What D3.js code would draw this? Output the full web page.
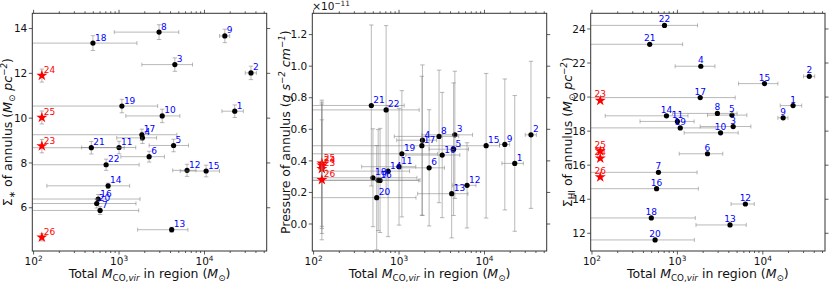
<!DOCTYPE html>
<html><head><meta charset="utf-8">
<script src="https://cdn.jsdelivr.net/npm/d3@7"></script>
<style>
html,body{margin:0;padding:0;background:#fff;}
svg text{font-family:"DejaVu Sans",sans-serif;}
</style></head>
<body><svg id="c" width="830" height="282"></svg>
<script>
// ---------- data ----------
const regionIds = [1,2,3,4,5,6,7,8,9,10,11,12,13,14,15,16,17,18,19,20,21,22,23,24,25,26];
const mcoVir   = [22600,35000,4500,1880,4350,2250,600,2940,17300,3200,1000,6250,4130,745,10450,570,1850,495,1080,548,474,706,125,125,125,125];
const mcoLow   = [16000,30000,1850,940,2250,1050,10,880,15000,1200,365,4250,1650,143,5200,10,10,10,10,10,10,10,null,null,null,null];
const mcoHigh  = [28500,40500,7250,2750,6500,3400,1700,5000,19700,5150,1570,7950,6400,1330,15000,1760,4750,1620,2830,1580,1150,1720,null,null,null,null];
const sigmaStar    = [10.31,12.02,12.39,9.12,8.78,8.28,5.88,13.84,13.67,10.10,8.69,7.67,5.02,6.98,7.64,6.39,9.26,13.35,10.54,6.19,8.68,7.92,8.75,11.9,10.03,4.68];
const sigmaStarErr = [0.28,0.30,0.30,0.25,0.28,0.24,0.18,0.33,0.30,0.30,0.28,0.27,0.11,0.12,0.26,0.20,0.25,0.33,0.30,0.20,0.28,0.25,0.30,0.29,0.29,0.16];
const pressure     = [0.384,0.565,0.565,0.531,0.474,0.356,0.276,0.555,0.504,0.437,0.363,0.245,0.192,0.335,0.496,0.278,0.496,0.293,0.445,0.167,0.751,0.723,0.350,0.372,0.385,0.280];
const pressureErr  = [0.43,0.466,0.403,0.477,0.42,0.368,0.33,0.42,0.415,0.397,0.37,0.27,0.28,0.415,0.458,0.32,0.44,0.31,0.40,0.33,0.51,0.534,0.41,0.40,0.40,0.38];
const sigmaHI      = [19.50,21.22,18.27,21.81,18.94,16.67,15.58,19.04,18.78,17.90,18.57,13.72,12.49,18.90,20.79,14.62,19.97,12.90,18.19,11.61,23.10,24.21,19.80,16.40,16.83,15.30];
const xTickValues = [100,1000,10000];
const xTickExps = ["2","3","4"];
const yTicksStar = [6,8,10,12,14];
const yTicksPressure = [0.0,0.2,0.4,0.6,0.8,1.0,1.2];
const yTicksHI = [12,14,16,18,20,22,24];
const mainColor = "#0000ff", extraColor = "#ff0000";

// ---------- drawing ----------
const svg = d3.select("#c");
const TOP = 13.3, BOTTOM = 251;
const TICKFS = 10.5, LABELFS = 12.5, PTFS = 9;

function rich(sel, parts, base){
  let cur = 0;
  parts.forEach(p=>{
    const t = sel.append("tspan").text(p.t);
    let target = p.sub ? base*0.3 : (p.sup ? -base*0.38 : 0);
    const dy = target - cur;
    if (dy !== 0) t.attr("dy", dy);
    cur = target;
    if (p.sub || p.sup) t.attr("font-size", base*0.7);
    if (p.it) t.attr("font-style","italic");
  });
}

const xLabelParts = [{t:"Total "},{t:"M",it:true},{t:"CO,",sub:true},{t:"vir",sub:true,it:true},{t:" in region ("},{t:"M",it:true},{t:"⊙",sub:true},{t:")"}];

function panel(cfg, idx){
  const x = d3.scaleLog().domain([Math.pow(10,1.985), Math.pow(10,4.728)]).range([cfg.x0, cfg.x1]);
  const y = d3.scaleLinear().domain(cfg.yDomain).range([BOTTOM, TOP]);
  const g = svg.append("g");
  const clipId = "clip"+idx;
  svg.append("clipPath").attr("id",clipId).append("rect")
    .attr("x",cfg.x0).attr("y",TOP).attr("width",cfg.x1-cfg.x0).attr("height",BOTTOM-TOP);
  const plot = g.append("g").attr("clip-path",`url(#${clipId})`);
  const ebColor = "#808080", ebOp = 0.55;

  regionIds.forEach((id,i)=>{
    const px = x(mcoVir[i]), py = y(cfg.yv[i]);
    const eg = plot.append("g").attr("stroke",ebColor).attr("stroke-opacity",ebOp).attr("stroke-width",1).attr("fill","none");
    if (mcoLow[i] != null){
      const xl = x(mcoLow[i]), xh = x(mcoHigh[i]);
      eg.append("line").attr("x1",xl).attr("x2",xh).attr("y1",py).attr("y2",py);
      eg.append("line").attr("x1",xl).attr("x2",xl).attr("y1",py-2).attr("y2",py+2);
      eg.append("line").attr("x1",xh).attr("x2",xh).attr("y1",py-2).attr("y2",py+2);
    }
    if (cfg.ye){
      const yl = y(cfg.yv[i]-cfg.ye[i]), yh = y(cfg.yv[i]+cfg.ye[i]);
      eg.append("line").attr("x1",px).attr("x2",px).attr("y1",yl).attr("y2",yh);
      eg.append("line").attr("x1",px-2.2).attr("x2",px+2.2).attr("y1",yl).attr("y2",yl);
      eg.append("line").attr("x1",px-2.2).attr("x2",px+2.2).attr("y1",yh).attr("y2",yh);
    }
    if (id >= 23){
      plot.append("path").attr("d", d3.symbol(d3.symbolStar, 38)())
        .attr("transform",`translate(${px},${py})`).attr("fill",extraColor);
    } else {
      plot.append("circle").attr("cx",px).attr("cy",py).attr("r",2.6).attr("fill","#000");
    }
  });
  regionIds.forEach((id,i)=>{
    const px = x(mcoVir[i]), py = y(cfg.yv[i]);
    const t = g.append("text").text(id).attr("font-size",PTFS)
      .attr("fill", id>=23?extraColor:mainColor);
    if (cfg.above){
      t.attr("x",px).attr("y",py-3).attr("text-anchor","middle");
    } else {
      t.attr("x",px+2).attr("y",py-2.5);
    }
  });

  // frame
  g.append("rect").attr("x",cfg.x0).attr("y",TOP).attr("width",cfg.x1-cfg.x0).attr("height",BOTTOM-TOP)
    .attr("fill","none").attr("stroke","#333").attr("stroke-width",1);

  // x ticks (bottom and top, outward)
  const minor = [];
  for (let e=1;e<=4;e++) for (let m=2;m<=9;m++){ const v=m*Math.pow(10,e); if (v>=x.domain()[0] && v<=x.domain()[1]) minor.push(v); }
  const tk = g.append("g").attr("stroke","#333").attr("stroke-width",0.8);
  xTickValues.forEach(v=>{
    tk.append("line").attr("x1",x(v)).attr("x2",x(v)).attr("y1",BOTTOM).attr("y2",BOTTOM+3.5);
    tk.append("line").attr("x1",x(v)).attr("x2",x(v)).attr("y1",TOP).attr("y2",TOP-3.5);
  });
  minor.forEach(v=>{
    tk.append("line").attr("x1",x(v)).attr("x2",x(v)).attr("y1",BOTTOM).attr("y2",BOTTOM+2);
    tk.append("line").attr("x1",x(v)).attr("x2",x(v)).attr("y1",TOP).attr("y2",TOP-2);
  });
  xTickValues.forEach((v,k)=>{
    const t = g.append("text").attr("x",x(v)).attr("y",265).attr("text-anchor","middle").attr("font-size",TICKFS).attr("fill","#111");
    rich(t,[{t:"10"},{t:xTickExps[k],sup:true}],TICKFS);
  });
  // y ticks (left and right, outward)
  cfg.yTicks.forEach(v=>{
    tk.append("line").attr("x1",cfg.x0).attr("x2",cfg.x0-3.5).attr("y1",y(v)).attr("y2",y(v));
    tk.append("line").attr("x1",cfg.x1).attr("x2",cfg.x1+3.5).attr("y1",y(v)).attr("y2",y(v));
    g.append("text").attr("x",cfg.x0-5).attr("y",y(v)).attr("dy","0.35em").attr("text-anchor","end")
      .attr("font-size",TICKFS).attr("fill","#111").text(cfg.fmt(v));
  });
  // x label
  const xl = g.append("text").attr("x",(cfg.x0+cfg.x1)/2).attr("y",277.5).attr("text-anchor","middle").attr("font-size",LABELFS).attr("fill","#111");
  rich(xl, xLabelParts, LABELFS);
  // y label
  const yl = g.append("text").attr("transform",`translate(${cfg.ylx},${(TOP+BOTTOM)/2}) rotate(-90)`)
    .attr("text-anchor","middle").attr("font-size",LABELFS).attr("fill","#111");
  rich(yl, cfg.yLabel, LABELFS);
  if (cfg.offset){
    const ot = g.append("text").attr("x",cfg.x0).attr("y",10).attr("font-size",TICKFS).attr("fill","#111");
    rich(ot,[{t:"×10"},{t:"−11",sup:true}],TICKFS);
  }
}

panel({x0:32.3,x1:266.7,yDomain:[4.07,14.68],yTicks:yTicksStar,fmt:d=>d,yv:sigmaStar,ye:sigmaStarErr,ylx:11.5,
  yLabel:[{t:"Σ"},{t:"∗",sub:true},{t:" of annulus ("},{t:"M",it:true},{t:"⊙",sub:true},{t:" pc",it:true},{t:"−2",sup:true,it:true},{t:")"}]},0);
panel({x0:312.3,x1:546.7,yDomain:[-0.171,1.335],yTicks:yTicksPressure,fmt:d3.format(".1f"),yv:pressure,ye:pressureErr,ylx:290,offset:true,
  yLabel:[{t:"Pressure of annulus ("},{t:"g s",it:true},{t:"−2",sup:true,it:true},{t:" cm",it:true},{t:"−1",sup:true,it:true},{t:")"}]},1);
panel({x0:590.7,x1:825,yDomain:[10.96,24.92],yTicks:yTicksHI,fmt:d=>d,yv:sigmaHI,ye:null,ylx:571.5,above:true,
  yLabel:[{t:"Σ"},{t:"HI",sub:true},{t:" of annulus ("},{t:"M",it:true},{t:"⊙",sub:true},{t:" pc",it:true},{t:"−2",sup:true,it:true},{t:")"}]},2);
</script>
</body></html>
